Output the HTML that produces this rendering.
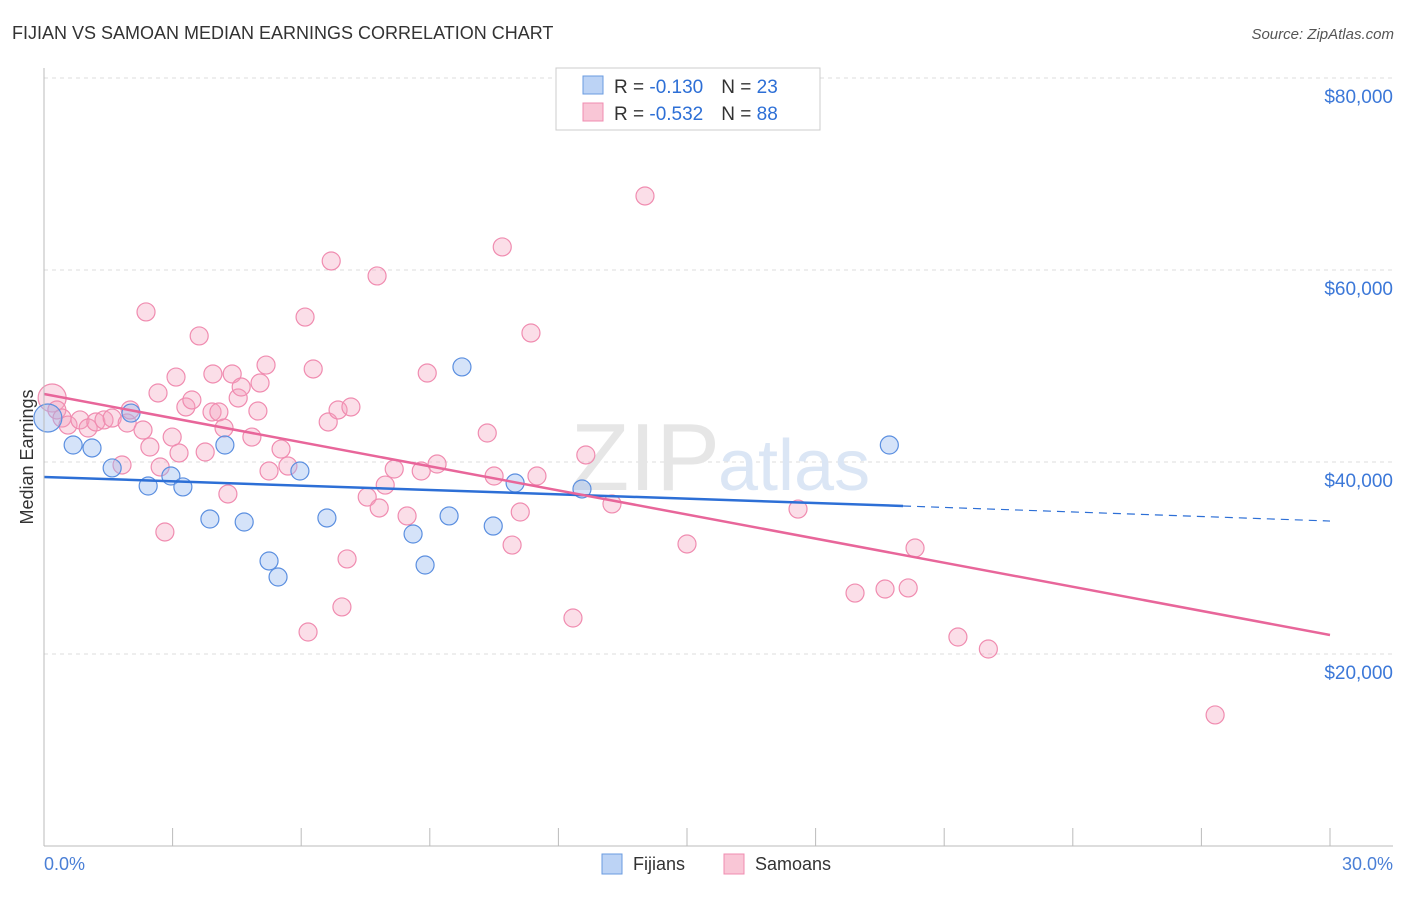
<!DOCTYPE html>
<html><head><meta charset="utf-8"><style>
body{margin:0;background:#fff;font-family:"Liberation Sans",sans-serif;}
svg text{font-family:"Liberation Sans",sans-serif;}
</style></head><body>
<svg width="1406" height="892" viewBox="0 0 1406 892" xmlns="http://www.w3.org/2000/svg">
<text x="12" y="39" font-size="18" fill="#333">FIJIAN VS SAMOAN MEDIAN EARNINGS CORRELATION CHART</text>
<text x="1394" y="39" font-size="15" fill="#555" font-style="italic" text-anchor="end">Source: ZipAtlas.com</text>
<g id="grid"></g>
<text x="720" y="490" font-size="96" fill="#e6e6e6" text-anchor="end" font-family="Liberation Serif">ZIP</text>
<text x="718" y="490" font-size="72" fill="#dbe6f5">atlas</text>
<g id="marks"></g>
<line x1="44" y1="68" x2="44" y2="846" stroke="#bbb"/>
<line x1="44" y1="846" x2="1393" y2="846" stroke="#bbb"/>
<text x="33" y="457" font-size="18" fill="#333" text-anchor="middle" transform="rotate(-90 33 457)">Median Earnings</text>
<text x="44" y="870" font-size="18" fill="#4a7fd6">0.0%</text>
<text x="1393" y="870" font-size="18" fill="#4a7fd6" text-anchor="end">30.0%</text>
<g>
<rect x="556" y="68" width="264" height="62" fill="#fff" stroke="#ccc"/>
<rect x="583" y="76" width="20" height="18" fill="#bcd3f5" stroke="#6a9be0"/>
<rect x="583" y="103" width="20" height="18" fill="#f9c6d6" stroke="#f08cb0"/>
<text x="614" y="93" font-size="19" fill="#333">R = <tspan fill="#2d6fd6">-0.130</tspan><tspan dx="18">N = </tspan><tspan fill="#2d6fd6">23</tspan></text>
<text x="614" y="120" font-size="19" fill="#333">R = <tspan fill="#2d6fd6">-0.532</tspan><tspan dx="18">N = </tspan><tspan fill="#2d6fd6">88</tspan></text>
</g>
<g>
<rect x="602" y="854" width="20" height="20" fill="#bcd3f5" stroke="#6a9be0"/>
<text x="633" y="870" font-size="18" fill="#333">Fijians</text>
<rect x="724" y="854" width="20" height="20" fill="#f9c6d6" stroke="#f08cb0"/>
<text x="755" y="870" font-size="18" fill="#333">Samoans</text>
</g>
</svg>
<script>
const yTicks=[20000,40000,60000,80000];
const yTickLabels=["$20,000","$40,000","$60,000","$80,000"];
const xTicks=[0,3,6,9,12,15,18,21,24,27,30];
const fijX=[0.09,0.68,1.12,1.59,2.03,2.43,2.96,3.24,3.87,4.22,4.67,5.25,5.46,5.97,6.6,8.61,8.89,9.45,9.75,10.48,10.99,12.55,19.72];
const fijY=[44580,41770,41460,39380,45100,37500,38540,37400,34060,41770,33750,29690,28020,39060,34170,32500,29270,34380,49900,33330,37810,37190,41770];
const samX=[0.19,0.30,0.42,0.56,0.84,1.03,1.21,1.40,1.59,1.82,1.94,2.01,2.31,2.38,2.47,2.66,2.71,2.82,2.99,3.08,3.15,3.31,3.45,3.62,3.76,3.94,3.92,4.08,4.20,4.29,4.39,4.53,4.60,4.85,4.99,5.04,5.18,5.25,5.53,5.69,6.09,6.16,6.28,6.63,6.70,6.86,6.95,7.07,7.16,7.54,7.77,7.82,7.96,8.17,8.47,8.80,8.94,9.17,10.34,10.5,10.69,10.92,11.11,11.36,11.50,12.34,12.64,13.25,14.02,15.0,17.59,18.92,19.62,20.16,20.32,21.32,22.03,27.32];
const samY=[46670,45420,44580,43850,44380,43540,44170,44380,44580,39690,44060,45420,43330,55630,41560,47190,39480,32710,42600,48850,40940,45730,46460,53130,41040,49170,45210,45210,43540,36670,49170,46670,47810,42600,45310,48230,50100,39060,41350,39580,55100,22290,49690,44170,60940,45420,24900,29900,45730,36350,59380,35210,37600,39270,34380,39060,49270,39790,43020,38540,62400,31350,34790,53440,38540,23750,40730,35630,67710,31460,35100,26350,26770,26880,31040,21770,20520,13650];
const fijTrend=[38440,35420,33850]; const fijTrendX=[0,20.04,30];
const samTrend=[47080,21980]; const samTrendX=[0,30];
const X=v=>44+v/30*1286, Y=v=>846-v*0.0096;
const NS="http://www.w3.org/2000/svg";
const grid=document.getElementById('grid'), marks=document.getElementById('marks');
function mk(tag,attrs,parent){const e=document.createElementNS(NS,tag);for(const k in attrs)e.setAttribute(k,attrs[k]);parent.appendChild(e);return e;}
yTicks.forEach((t,i)=>{
 const l=mk('line',{x1:44,x2:1393,y1:Y(t),y2:Y(t),stroke:'#ddd','stroke-dasharray':'4 4'},grid);
 
 
 const tx=mk('text',{x:1393,y:Y(t)+25,'font-size':19,fill:'#3c78d8','text-anchor':'end'},grid);
 tx.textContent=yTickLabels[i];
 
 
});
xTicks.forEach(t=>{
 const l=mk('line',{x1:X(t),x2:X(t),y1:828,y2:846,stroke:'#bbb'},grid);
 
 
});
function pts(xs,ys,fill,stroke,name){
 xs.forEach((x,i)=>{
  const r=(x<0.2)?14:9;
  const c=mk('circle',{cx:X(x),cy:Y(ys[i]),r:r,fill:fill,stroke:stroke,'stroke-width':1.2},marks);
  
  
 });
}
pts(samX,samY,'rgba(244,160,190,0.35)','#f08cb0','samoan-point');
pts(fijX,fijY,'rgba(150,185,240,0.4)','#5b8fe0','fijian-point');
let l1=mk('line',{x1:X(fijTrendX[0]),y1:Y(fijTrend[0]),x2:X(fijTrendX[1]),y2:Y(fijTrend[1]),stroke:'#2d6fd6','stroke-width':2.5},marks);


let l2=mk('line',{x1:X(fijTrendX[1]),y1:Y(fijTrend[1]),x2:X(fijTrendX[2]),y2:Y(fijTrend[2]),stroke:'#2d6fd6','stroke-width':1.2,'stroke-dasharray':'8 6'},marks);


let l3=mk('line',{x1:X(samTrendX[0]),y1:Y(samTrend[0]),x2:X(samTrendX[1]),y2:Y(samTrend[1]),stroke:'#e8669a','stroke-width':2.5},marks);


</script>
</body></html>
